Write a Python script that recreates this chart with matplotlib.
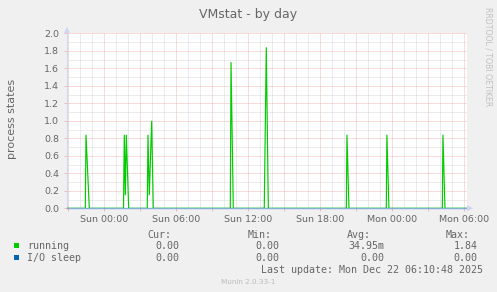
import numpy as np
import matplotlib
matplotlib.use("Agg")
import matplotlib.pyplot as plt
from matplotlib.patches import Polygon

W, H = 497, 292

# ---- data (hours relative to Sun 00:00) ----
run_t = [-3.06, -1.533, -1.475, -1.20, 1.65, 1.717, 1.80, 1.883, 2.083,
         3.63, 3.69, 3.80, 4.00, 4.13, 10.55, 10.61, 10.80,
         13.38, 13.55, 13.72, 20.22, 20.27, 20.44, 23.55, 23.60, 23.77,
         28.22, 28.27, 28.44, 30.27]
run_v = [0.0, 0.0, 0.84, 0.0, 0.0, 0.84, 0.15, 0.84, 0.0,
         0.0, 0.84, 0.15, 1.00, 0.0, 0.0, 1.67, 0.0,
         0.0, 1.84, 0.0, 0.0, 0.84, 0.0, 0.0, 0.84, 0.0,
         0.0, 0.84, 0.0, 0.0]
io_t = [-3.06, 30.27]
io_v = [0.0, 0.0]

tick_hours = [0, 6, 12, 18, 24, 30]
tick_labels = ["Sun 00:00", "Sun 06:00", "Sun 12:00", "Sun 18:00", "Mon 00:00", "Mon 06:00"]

series = ["running", "I/O sleep"]
colors = ["#00cc00", "#0066b3"]
cur = ["0.00", "0.00"]
mins = ["0.00", "0.00"]
avg = ["34.95m", "0.00"]
mx = ["1.84", "0.00"]

FONT = "#666666"
RED = "#f4b8b8"
GRAY = "#d8d8d8"
AXISC = "#cfd6f8"

fig = plt.figure(figsize=(W / 100, H / 100), dpi=100, facecolor="#f0f0f0")

def fx(x):
    return x / W

def fy(y):
    return 1 - y / H

x0, x1, ytop, ybot = 67, 467, 33.3, 208.3
ax = fig.add_axes([fx(x0), fy(ybot), (x1 - x0) / W, (ybot - ytop) / H])
ax.set_facecolor("white")
for s in ax.spines.values():
    s.set_visible(False)

ax.set_xlim(-3.058, 30.275)
ax.set_ylim(0, 2.0)

major_x = np.arange(-3, 31, 3)
ax.set_xticks(major_x)
ax.set_xticklabels([tick_labels[tick_hours.index(h)] if h in tick_hours else "" for h in major_x])
ax.set_xticks(np.arange(-3, 31, 1), minor=True)
ax.set_yticks(np.round(np.arange(0, 2.01, 0.2), 1))
ax.set_yticklabels([f"{v:.1f}" for v in np.arange(0, 2.01, 0.2)])
ax.set_yticks(np.arange(0.1, 2.0, 0.2), minor=True)

ax.grid(which="minor", color=GRAY, ls=(0, (1, 1)), lw=0.72)
ax.grid(which="major", color=RED, ls=(0, (1, 1)), lw=0.72)
ax.set_axisbelow(True)
ax.tick_params(which="major", length=2, width=0.72, color=RED, labelsize=6.8,
               labelcolor=FONT, pad=2.5)
ax.tick_params(which="minor", length=0)
ax.tick_params(axis="y", pad=3.5)

# axes lines
ax.axvline(-3.058, color=AXISC, lw=1.0, zorder=1)

ax.plot(run_t, run_v, color=colors[0], lw=0.85, zorder=3, solid_joinstyle="miter")
ax.plot(io_t, io_v, color=colors[1], lw=1.0, alpha=0.45, zorder=4, clip_on=False)

# arrows
fig.add_artist(Polygon([[fx(64), fy(33)], [fx(70), fy(33)], [fx(67), fy(27)]],
                       closed=True, transform=fig.transFigure, color=AXISC, lw=0))
fig.add_artist(Polygon([[fx(467), fy(205)], [fx(467), fy(211.5)], [fx(473), fy(208.3)]],
                       closed=True, transform=fig.transFigure, color=AXISC, lw=0))

# title and labels
fig.text(fx(248), fy(18.3), "VMstat - by day", ha="center", va="baseline",
         fontsize=9, color=FONT)
fig.text(fx(11.7), fy(119.2), "process states", rotation=90, ha="center", va="center",
         fontsize=8, color=FONT)
fig.text(fx(488), fy(57), "RRDTOOL / TOBI OETIKER", rotation=270, ha="center",
         va="center", fontsize=5.6, color="#c0c0c0")

# legend
mono = dict(family="DejaVu Sans Mono", fontsize=7.2, color=FONT)
hdr_base = 237.7
fig.text(fx(171.7), fy(hdr_base), "Cur:", ha="right", va="baseline", **mono)
fig.text(fx(271.7), fy(hdr_base), "Min:", ha="right", va="baseline", **mono)
fig.text(fx(370.5), fy(hdr_base), "Avg:", ha="right", va="baseline", **mono)
fig.text(fx(469.7), fy(hdr_base), "Max:", ha="right", va="baseline", **mono)

rows = [249.0, 260.7]
for i, name in enumerate(series):
    yb = rows[i]
    fig.add_artist(plt.Rectangle((fx(14), fy(yb - 1)), 5 / W, 5 / H,
                                 transform=fig.transFigure, color=colors[i], lw=0))
    fig.text(fx(27.3), fy(yb), name, ha="left", va="baseline", **mono)
    fig.text(fx(179), fy(yb), cur[i], ha="right", va="baseline", **mono)
    fig.text(fx(279), fy(yb), mins[i], ha="right", va="baseline", **mono)
    fig.text(fx(384), fy(yb), avg[i], ha="right", va="baseline", **mono)
    fig.text(fx(477.3), fy(yb), mx[i], ha="right", va="baseline", **mono)

fig.text(fx(483.3), fy(273.3), "Last update: Mon Dec 22 06:10:48 2025", ha="right",
         va="baseline", **mono)
fig.text(fx(248.5), fy(284.3), "Munin 2.0.33-1", ha="center", va="baseline",
         fontsize=5.25, color="#bbbbbb")

fig.savefig("out.png", dpi=100, facecolor=fig.get_facecolor())
